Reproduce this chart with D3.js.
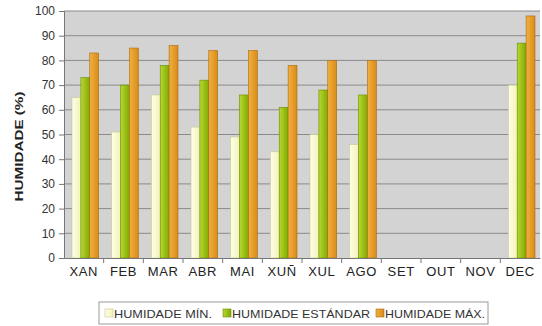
<!DOCTYPE html>
<html>
<head>
<meta charset="utf-8">
<script src="https://cdn.jsdelivr.net/npm/d3@7"></script>
<style>
	body { margin: 0; background: #fff; }
	svg { display: block; font-family: "Liberation Sans", Arial, sans-serif; }
</style>
</head>
<body>
<svg id="chart" width="542" height="326"></svg>
<script>
const months = ['XAN', 'FEB', 'MAR', 'ABR', 'MAI', 'XUÑ', 'XUL', 'AGO', 'SET', 'OUT', 'NOV', 'DEC'];
const humMin = [65, 51, 66, 53, 49, 43, 50, 46, null, null, null, 70];
const humStd = [73, 70, 78, 72, 66, 61, 68, 66, null, null, null, 87];
const humMax = [83, 85, 86, 84, 84, 78, 80, 80, null, null, null, 98];
const seriesNames = ['HUMIDADE MÍN.', 'HUMIDADE ESTÁNDAR', 'HUMIDADE MÁX.'];
const yTicks = [0, 10, 20, 30, 40, 50, 60, 70, 80, 90, 100];

const series = [
	{ key: 'min', name: seriesNames[0], values: humMin, light: '#ffffe8', dark: '#f2f2b8', edge: '#c8c890' },
	{ key: 'std', name: seriesNames[1], values: humStd, light: '#b8d830', dark: '#80aa00', edge: '#6a8c00' },
	{ key: 'max', name: seriesNames[2], values: humMax, light: '#f2b040', dark: '#d88c18', edge: '#a86a10' }
];

const margin = { top: 11, right: 2, bottom: 68, left: 64 };
const width = 542, height = 326;

const $svg = d3.select('#chart');

const scale = {
	months: d3.scaleBand().domain(months).range([margin.left, width - margin.right]),
	series: d3.scaleBand().domain(series.map((s) => s.key)),
	hum: d3.scaleLinear().domain([0, 100]).range([height - margin.bottom, margin.top])
};
scale.series.range([8, scale.months.bandwidth() - 5]);

// gradients for the bars
const defs = $svg.append('defs');
series.forEach((s) => {
	const g = defs.append('linearGradient').attr('id', `grad-${s.key}`)
		.attr('x1', 0).attr('x2', 1).attr('y1', 0).attr('y2', 0);
	g.append('stop').attr('offset', '0%').attr('stop-color', s.light);
	g.append('stop').attr('offset', '100%').attr('stop-color', s.dark);
});

// plot background
$svg.append('rect')
	.attr('x', margin.left)
	.attr('y', scale.hum(100))
	.attr('width', width - margin.right - margin.left)
	.attr('height', scale.hum(0) - scale.hum(100))
	.attr('fill', '#d3d3d3');

// grid lines
$svg.append('g')
	.selectAll('line')
	.data(yTicks.filter((t) => t > 0))
	.enter()
	.append('line')
	.attr('x1', margin.left)
	.attr('x2', width - margin.right)
	.attr('y1', (d) => scale.hum(d))
	.attr('y2', (d) => scale.hum(d))
	.attr('stroke', '#8a8a8a')
	.attr('stroke-width', 1);

// bars
series.forEach((s) => {
	$svg.append('g')
		.selectAll('rect')
		.data(months.map((m, i) => ({ month: m, value: s.values[i] })).filter((d) => d.value != null))
		.enter()
		.append('rect')
		.attr('x', (d) => scale.months(d.month) + scale.series(s.key))
		.attr('y', (d) => scale.hum(d.value))
		.attr('width', scale.series.bandwidth())
		.attr('height', (d) => scale.hum(0) - scale.hum(d.value))
		.attr('fill', `url(#grad-${s.key})`)
		.attr('stroke', s.edge)
		.attr('stroke-width', 0.6);
});

// y axis
const yAxis = $svg.append('g')
	.attr('transform', `translate(${margin.left},0)`)
	.call(d3.axisLeft(scale.hum).tickValues(yTicks).tickSize(5).tickPadding(4));
yAxis.selectAll('text').attr('font-size', 12).attr('fill', '#333');
yAxis.selectAll('line, path').attr('stroke', '#777');

// x axis
const xAxis = $svg.append('g')
	.attr('transform', `translate(0,${scale.hum(0)})`)
	.call(d3.axisBottom(scale.months).tickSize(0).tickPadding(9));
xAxis.selectAll('text').attr('font-size', 13).attr('letter-spacing', 0.6).attr('fill', '#222');
xAxis.select('path').attr('stroke', '#777');
xAxis.append('g')
	.selectAll('line')
	.data(months.slice(1))
	.enter()
	.append('line')
	.attr('x1', (d) => scale.months(d))
	.attr('x2', (d) => scale.months(d))
	.attr('y1', 0)
	.attr('y2', 5)
	.attr('stroke', '#777');

// y title
$svg.append('text')
	.attr('transform', `translate(23,${(scale.hum(0) + scale.hum(100)) / 2 + 12}) rotate(-90)`)
	.attr('text-anchor', 'middle')
	.attr('font-size', 11)
	.attr('font-weight', 'bold')
	.attr('fill', '#222')
	.attr('textLength', 110)
	.attr('lengthAdjust', 'spacingAndGlyphs')
	.text('HUMIDADE (%)');

// legend
const legend = $svg.append('g').attr('transform', 'translate(99,302)');
legend.append('rect')
	.attr('width', 389).attr('height', 22)
	.attr('fill', '#fff').attr('stroke', '#999');
const legendX = [6, 124, 277];
const legendW = [98, 138, 100];
series.forEach((s, i) => {
	const item = legend.append('g').attr('transform', `translate(${legendX[i]},7)`);
	item.append('rect').attr('width', 8).attr('height', 8)
		.attr('fill', `url(#grad-${s.key})`).attr('stroke', s.edge).attr('stroke-width', 0.6);
	item.append('text').attr('x', 9).attr('y', 8.5)
		.attr('font-size', 10.5).attr('fill', '#333')
		.attr('textLength', legendW[i])
		.attr('lengthAdjust', 'spacingAndGlyphs')
		.text(s.name);
});
</script>
</body>
</html>
